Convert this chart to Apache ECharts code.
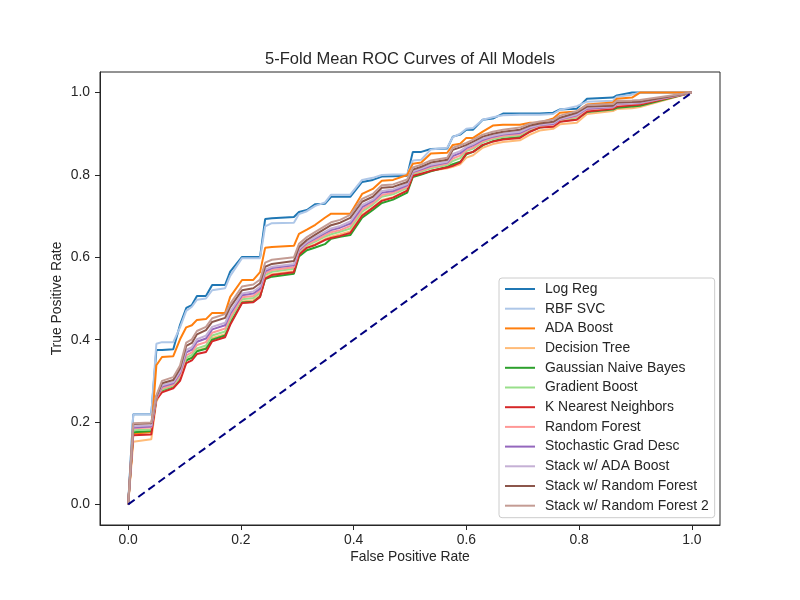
<!DOCTYPE html>
<html>
<head>
<meta charset="utf-8">
<script src="https://cdn.jsdelivr.net/npm/echarts@6/dist/echarts.min.js"></script>
<style>html,body{margin:0;padding:0;background:#fff}#c{width:800px;height:600px}</style>
</head>
<body>
<div id="c"></div>
<script>
// Shared mean-FPR grid
const fpr = [0, 0.009, 0.041, 0.05, 0.06, 0.08, 0.092, 0.103, 0.113, 0.122,
  0.138, 0.149, 0.172, 0.181, 0.202, 0.222, 0.234, 0.243, 0.255, 0.294,
  0.303, 0.317, 0.332, 0.349, 0.36, 0.376, 0.394, 0.415, 0.434, 0.45,
  0.47, 0.495, 0.505, 0.52, 0.537, 0.566, 0.576, 0.589, 0.6, 0.612,
  0.629, 0.647, 0.665, 0.695, 0.713, 0.73, 0.754, 0.766, 0.796, 0.814,
  0.86, 0.867, 0.894, 0.908, 1.0];

const logReg = [0, 0.219, 0.219, 0.375, 0.375, 0.377, 0.436, 0.477, 0.484, 0.506,
  0.506, 0.533, 0.533, 0.565, 0.601, 0.601, 0.601, 0.693, 0.695, 0.698,
  0.710, 0.715, 0.729, 0.730, 0.747, 0.747, 0.747, 0.783, 0.788, 0.796,
  0.797, 0.798, 0.856, 0.856, 0.863, 0.864, 0.893, 0.898, 0.910, 0.910,
  0.934, 0.937, 0.949, 0.949, 0.949, 0.949, 0.951, 0.959, 0.961, 0.985,
  0.988, 0.993, 1.0, 1.0, 1.0];
const rbfSvc = [0, 0.219, 0.219, 0.39, 0.394, 0.394, 0.43, 0.47, 0.48, 0.497,
  0.50, 0.52, 0.525, 0.555, 0.598, 0.598, 0.598, 0.675, 0.683, 0.684,
  0.705, 0.712, 0.725, 0.733, 0.752, 0.752, 0.752, 0.788, 0.793, 0.80,
  0.801, 0.802, 0.835, 0.837, 0.862, 0.866, 0.892, 0.90, 0.912, 0.914,
  0.934, 0.94, 0.945, 0.946, 0.946, 0.946, 0.948, 0.958, 0.967, 0.978,
  0.98, 0.99, 0.995, 1.0, 1.0];
const adaBoost = [0, 0.172, 0.175, 0.338, 0.358, 0.360, 0.401, 0.430, 0.435, 0.448,
  0.450, 0.465, 0.465, 0.504, 0.545, 0.545, 0.564, 0.623, 0.625, 0.628,
  0.657, 0.667, 0.679, 0.696, 0.706, 0.706, 0.706, 0.754, 0.766, 0.786,
  0.788, 0.800, 0.827, 0.830, 0.852, 0.854, 0.873, 0.876, 0.890, 0.890,
  0.905, 0.920, 0.922, 0.922, 0.927, 0.927, 0.937, 0.951, 0.954, 0.971,
  0.976, 0.985, 0.988, 1.0, 1.0];
const decisionTree = [0, 0.152, 0.158, 0.25, 0.276, 0.286, 0.305, 0.35, 0.357, 0.374,
  0.38, 0.404, 0.413, 0.443, 0.493, 0.496, 0.508, 0.551, 0.559, 0.566,
  0.607, 0.624, 0.632, 0.644, 0.65, 0.656, 0.663, 0.704, 0.721, 0.739,
  0.746, 0.762, 0.797, 0.802, 0.81, 0.816, 0.82, 0.826, 0.842, 0.848,
  0.866, 0.875, 0.88, 0.884, 0.898, 0.908, 0.912, 0.923, 0.927, 0.948,
  0.955, 0.96, 0.962, 0.965, 1.0];
const gaussianNB = [0, 0.175, 0.178, 0.257, 0.277, 0.287, 0.305, 0.35, 0.356, 0.372,
  0.378, 0.40, 0.41, 0.44, 0.49, 0.492, 0.505, 0.547, 0.553, 0.56,
  0.602, 0.617, 0.624, 0.632, 0.645, 0.650, 0.654, 0.696, 0.715, 0.732,
  0.740, 0.757, 0.795, 0.801, 0.809, 0.82, 0.826, 0.832, 0.85, 0.856,
  0.872, 0.882, 0.888, 0.893, 0.906, 0.915, 0.919, 0.93, 0.936, 0.953,
  0.959, 0.963, 0.966, 0.968, 1.0];
const gradBoost = [0, 0.18, 0.182, 0.257, 0.279, 0.288, 0.309, 0.356, 0.363, 0.379,
  0.386, 0.41, 0.42, 0.449, 0.498, 0.501, 0.514, 0.557, 0.565, 0.572,
  0.612, 0.629, 0.638, 0.65, 0.656, 0.662, 0.67, 0.711, 0.728, 0.747,
  0.753, 0.768, 0.803, 0.808, 0.816, 0.824, 0.834, 0.841, 0.858, 0.864,
  0.879, 0.887, 0.892, 0.896, 0.91, 0.918, 0.921, 0.932, 0.939, 0.958,
  0.963, 0.969, 0.971, 0.973, 1.0];
const knn = [0, 0.168, 0.170, 0.255, 0.272, 0.282, 0.30, 0.343, 0.35, 0.365,
  0.37, 0.396, 0.406, 0.436, 0.489, 0.491, 0.504, 0.548, 0.557, 0.564,
  0.606, 0.623, 0.630, 0.642, 0.647, 0.652, 0.659, 0.701, 0.720, 0.737,
  0.745, 0.762, 0.798, 0.803, 0.810, 0.818, 0.822, 0.830, 0.852, 0.856,
  0.873, 0.881, 0.886, 0.890, 0.905, 0.915, 0.917, 0.929, 0.934, 0.954,
  0.961, 0.966, 0.969, 0.971, 1.0];
const randomForest = [0, 0.185, 0.187, 0.258, 0.282, 0.291, 0.314, 0.362, 0.369, 0.387,
  0.394, 0.417, 0.427, 0.455, 0.503, 0.506, 0.519, 0.561, 0.569, 0.576,
  0.615, 0.632, 0.641, 0.654, 0.661, 0.666, 0.676, 0.716, 0.732, 0.751,
  0.757, 0.771, 0.805, 0.811, 0.819, 0.827, 0.84, 0.847, 0.861, 0.867,
  0.882, 0.89, 0.895, 0.899, 0.912, 0.92, 0.922, 0.934, 0.942, 0.959,
  0.964, 0.97, 0.973, 0.974, 1.0];
const sgd = [0, 0.187, 0.189, 0.259, 0.286, 0.294, 0.319, 0.369, 0.376, 0.395,
  0.403, 0.425, 0.435, 0.463, 0.508, 0.512, 0.524, 0.566, 0.574, 0.581,
  0.618, 0.635, 0.646, 0.659, 0.666, 0.672, 0.682, 0.722, 0.737, 0.757,
  0.761, 0.775, 0.807, 0.814, 0.822, 0.83, 0.846, 0.853, 0.865, 0.872,
  0.885, 0.893, 0.898, 0.902, 0.914, 0.921, 0.924, 0.935, 0.945, 0.961,
  0.965, 0.972, 0.974, 0.975, 1.0];
const stackAda = [0, 0.19, 0.192, 0.26, 0.289, 0.297, 0.323, 0.375, 0.382, 0.401,
  0.41, 0.431, 0.441, 0.468, 0.512, 0.517, 0.529, 0.570, 0.577, 0.584,
  0.62, 0.637, 0.649, 0.662, 0.670, 0.676, 0.687, 0.727, 0.74, 0.761,
  0.765, 0.778, 0.809, 0.816, 0.825, 0.832, 0.851, 0.858, 0.868, 0.875,
  0.888, 0.895, 0.9, 0.905, 0.916, 0.922, 0.926, 0.936, 0.947, 0.963,
  0.966, 0.973, 0.975, 0.976, 1.0];
const stackRF = [0, 0.195, 0.197, 0.262, 0.294, 0.302, 0.33, 0.385, 0.392, 0.413,
  0.423, 0.443, 0.453, 0.479, 0.52, 0.525, 0.537, 0.577, 0.584, 0.591,
  0.625, 0.642, 0.655, 0.669, 0.678, 0.684, 0.696, 0.735, 0.747, 0.769,
  0.771, 0.783, 0.813, 0.820, 0.830, 0.837, 0.861, 0.867, 0.873, 0.881,
  0.893, 0.900, 0.905, 0.910, 0.920, 0.925, 0.929, 0.939, 0.951, 0.966,
  0.968, 0.976, 0.977, 0.978, 1.0];
const stackRF2 = [0, 0.197, 0.199, 0.265, 0.3, 0.309, 0.337, 0.393, 0.401, 0.421,
  0.431, 0.452, 0.462, 0.487, 0.529, 0.534, 0.546, 0.587, 0.594, 0.600,
  0.633, 0.649, 0.662, 0.676, 0.685, 0.691, 0.703, 0.742, 0.754, 0.775,
  0.777, 0.789, 0.818, 0.825, 0.835, 0.842, 0.866, 0.872, 0.878, 0.886,
  0.898, 0.905, 0.91, 0.915, 0.925, 0.93, 0.934, 0.944, 0.955, 0.97,
  0.972, 0.98, 0.981, 0.982, 1.0];

const chanceX = [0, 1];
const chanceY = [0, 1];

const modelNames = ['Log Reg', 'RBF SVC', 'ADA Boost', 'Decision Tree', 'Gaussian Naive Bayes',
  'Gradient Boost', 'K Nearest Neighbors', 'Random Forest', 'Stochastic Grad Desc',
  'Stack w/ ADA Boost', 'Stack w/ Random Forest', 'Stack w/ Random Forest 2'];
const modelTpr = [logReg, rbfSvc, adaBoost, decisionTree, gaussianNB, gradBoost, knn,
  randomForest, sgd, stackAda, stackRF, stackRF2];
const modelColors = ['#1f77b4', '#aec7e8', '#ff7f0e', '#ffbb78', '#2ca02c', '#98df8a',
  '#d62728', '#ff9896', '#9467bd', '#c5b0d5', '#8c564b', '#c49c94'];

const tickValues = [0, 0.2, 0.4, 0.6, 0.8, 1.0];

const FONT = 'Liberation Sans, Arial, sans-serif';
const TXT = '#262626';

const series = modelNames.map((name, i) => ({
  name: name,
  type: 'line',
  data: fpr.map((x, j) => [x, modelTpr[i][j]]),
  symbol: 'none',
  showSymbol: false,
  smooth: false,
  color: modelColors[i],
  lineStyle: { width: 2, color: modelColors[i] },
  z: 2 + i
}));
series.push({
  name: 'chance',
  type: 'line',
  data: chanceX.map((x, j) => [x, chanceY[j]]),
  symbol: 'none',
  showSymbol: false,
  lineStyle: { width: 2, color: '#000080', type: [8, 4.5] },
  z: 20
});

const chart = echarts.init(document.getElementById('c'), null, { renderer: 'canvas' });
chart.setOption({
  animation: false,
  backgroundColor: '#fff',
  title: {
    text: '5-Fold Mean ROC Curves of All Models',
    left: 410,
    textAlign: 'center',
    top: 51,
    padding: 0,
    textStyle: { fontFamily: FONT, fontSize: 16.5, fontWeight: 'normal', color: TXT }
  },
  grid: {
    left: 100, right: 80, top: 72, bottom: 75,
    show: true, borderColor: '#262626', borderWidth: 1, backgroundColor: 'transparent'
  },
  legend: {
    data: modelNames,
    orient: 'vertical',
    left: 499,
    top: 278,
    itemWidth: 30,
    itemHeight: 14,
    itemGap: 5.7,
    padding: [4, 6, 5, 6],
    backgroundColor: 'rgba(255,255,255,0.8)',
    borderColor: '#cccccc',
    borderWidth: 1,
    borderRadius: 3,
    icon: 'path://M0,0 L30,0 L30,2 L0,2 Z',
    textStyle: { fontFamily: FONT, fontSize: 13.9, color: TXT, padding: [0, 0, 0, 5] }
  },
  xAxis: {
    type: 'value',
    min: -0.05, max: 1.05,
    name: 'False Positive Rate',
    nameLocation: 'middle',
    nameGap: 25,
    nameMoveOverlap: false,
    nameTextStyle: { fontFamily: FONT, fontSize: 13.9, color: TXT },
    splitLine: { show: false },
    axisLine: { show: true, onZero: false, lineStyle: { color: '#262626' } },
    axisTick: { show: true, length: 5, customValues: tickValues, lineStyle: { color: '#262626' } },
    axisLabel: { customValues: tickValues, margin: 8, fontFamily: FONT, fontSize: 13.9, color: TXT,
      formatter: v => v.toFixed(1) }
  },
  yAxis: {
    type: 'value',
    min: -0.05, max: 1.05,
    name: 'True Positive Rate',
    nameLocation: 'middle',
    nameGap: 36,
    nameMoveOverlap: false,
    nameTextStyle: { fontFamily: FONT, fontSize: 13.9, color: TXT },
    splitLine: { show: false },
    axisLine: { show: true, onZero: false, lineStyle: { color: '#262626' } },
    axisTick: { show: true, length: 5, customValues: tickValues, lineStyle: { color: '#262626' } },
    axisLabel: { customValues: tickValues, margin: 10, fontFamily: FONT, fontSize: 13.9, color: TXT,
      formatter: v => v.toFixed(1) }
  },
  series: series
});
</script>
</body>
</html>
